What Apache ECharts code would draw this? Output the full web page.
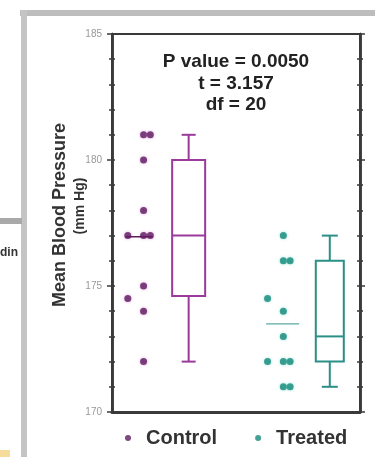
<!DOCTYPE html>
<html>
<head>
<meta charset="utf-8">
<script src="https://cdn.jsdelivr.net/npm/echarts@6/dist/echarts.min.js"></script>
<style>
html,body{margin:0;padding:0;background:#fff}
#bp{width:375px;height:457px}
</style>
</head>
<body>
<div id="bp"></div>
<script>
// dot plot + box plot, control vs treated
var groups = ['Control', 'Treated'];
var controlValues = [181, 181, 180, 178, 177, 177, 177, 175, 174.5, 174, 172];
var controlX = [0.7, 0.85, 0.7, 0.7, 0.35, 0.7, 0.85, 0.7, 0.35, 0.7, 0.7];
var treatedValues = [177, 176, 176, 174.5, 174, 173, 172, 172, 172, 171, 171];
var treatedX = [3.8, 3.8, 3.95, 3.45, 3.8, 3.8, 3.45, 3.8, 3.95, 3.8, 3.95];
// [x, min, q1, median, q3, max]
var controlBox = [1.7, 172, 174.6, 177, 180, 181];
var treatedBox = [4.83, 171, 172, 173, 176, 177];
var controlMeanX = [0.3, 0.9];
var treatedMeanX = [3.42, 4.15];
var yTicks = [170, 175, 180, 185];
var stats = ['P value = 0.0050', 't = 3.157', 'df = 20'];
var yTitle = ['Mean Blood Pressure', '(mm Hg)'];

var purple = '#5e1b5e', purpleBox = '#9a3a9a';
var teal = '#178a7b', tealBox = '#2a8f86';
var ink = '#3a3a3a';
var font = 'Liberation Sans';

function mean(a) {
	var s = 0;
	for (var i = 0; i < a.length; i++) s += a[i];
	return s / a.length;
}

function pts(xs, ys) {
	return xs.map(function (x, i) { return [x, ys[i]]; });
}

function boxRender(color, boxPx, capPx) {
	return function (params, api) {
		var x = api.value(0);
		var lo = api.coord([x, api.value(1)]);
		var q1 = api.coord([x, api.value(2)]);
		var md = api.coord([x, api.value(3)]);
		var q3 = api.coord([x, api.value(4)]);
		var hi = api.coord([x, api.value(5)]);
		var cx = lo[0], hb = boxPx / 2, hc = capPx / 2;
		var st = {stroke: color, fill: 'none', lineWidth: 2};
		function ln(x1, y1, x2, y2) {
			return {type: 'line', shape: {x1: x1, y1: y1, x2: x2, y2: y2}, style: st};
		}
		return {
			type: 'group',
			children: [
				{type: 'rect', shape: {x: cx - hb, y: q3[1], width: boxPx, height: q1[1] - q3[1]}, style: st},
				ln(cx - hb, md[1], cx + hb, md[1]),
				ln(cx, q3[1], cx, hi[1]),
				ln(cx - hc, hi[1], cx + hc, hi[1]),
				ln(cx, q1[1], cx, lo[1]),
				ln(cx - hc, lo[1], cx + hc, lo[1])
			]
		};
	};
}

function yAx(pos, inside, labels) {
	return {
		type: 'value', min: yTicks[0], max: yTicks[yTicks.length - 1], interval: 5, position: pos,
		axisLine: {show: true, lineStyle: {color: ink, width: 2.5}},
		axisTick: {show: true, inside: inside, length: inside ? 3 : 5, lineStyle: {color: ink, width: 1.5}},
		minorTick: {show: true, splitNumber: 5, length: 3, lineStyle: {color: ink, width: 1.5}},
		axisLabel: {show: labels, fontSize: 10, color: '#999', margin: 10, fontFamily: font},
		splitLine: {show: false}
	};
}

function statText(i, y) {
	return {type: 'text', x: 236, y: y,
		style: {text: stats[i], fontSize: 19, fontWeight: 'bold', fill: '#222', fontFamily: font, align: 'center', verticalAlign: 'middle'}};
}

var chart = echarts.init(document.querySelector('#bp'));
var cMean = mean(controlValues), tMean = mean(treatedValues);

var option = {
	animation: false,
	grid: {left: 112, top: 34, width: 248, height: 378, show: true, borderColor: ink, borderWidth: 2},
	legend: {
		data: groups, left: 120, top: 423, icon: 'circle', itemWidth: 26, itemHeight: 6, itemGap: 38,
		textStyle: {fontSize: 20, fontWeight: 'bold', color: '#333', fontFamily: font}
	},
	xAxis: {
		type: 'value', min: 0, max: 5.5,
		axisLine: {show: true, onZero: false, lineStyle: {color: ink, width: 3}},
		axisTick: {show: false}, axisLabel: {show: false}, splitLine: {show: false}
	},
	yAxis: [yAx('left', false, true), yAx('left', true, false), yAx('right', false, false), yAx('right', true, false)],
	graphic: [
		{type: 'rect', z: -1, shape: {x: 20, y: 10, width: 355, height: 6}, style: {fill: '#bdbdbd'}},
		{type: 'rect', z: -1, shape: {x: 21, y: 10, width: 6, height: 447}, style: {fill: '#c4c4c4'}},
		{type: 'rect', z: -1, shape: {x: 0, y: 218, width: 22, height: 6}, style: {fill: '#a9a9a9'}},
		{type: 'rect', z: -1, shape: {x: 0, y: 450, width: 10, height: 7}, style: {fill: '#f6dc9a'}},
		{type: 'text', x: 0, y: 253, style: {text: 'din', fontSize: 12, fontWeight: 'bold', fill: '#333', fontFamily: font, verticalAlign: 'middle'}},
		{type: 'text', x: 60, y: 215, rotation: Math.PI / 2,
			style: {text: yTitle[0], fontSize: 18, fontWeight: 'bold', fill: '#333', fontFamily: font, align: 'center', verticalAlign: 'middle'}},
		{type: 'text', x: 80, y: 206, rotation: Math.PI / 2,
			style: {text: yTitle[1], fontSize: 14, fontWeight: 'bold', fill: '#333', fontFamily: font, align: 'center', verticalAlign: 'middle'}},
		statText(0, 62), statText(1, 84), statText(2, 105)
	],
	series: [
		{
			name: groups[0], type: 'scatter', symbolSize: 7, data: pts(controlX, controlValues),
			itemStyle: {color: purple, shadowBlur: 3, shadowColor: 'rgba(200,90,200,0.6)'}
		},
		{
			name: groups[1], type: 'scatter', symbolSize: 7, data: pts(treatedX, treatedValues),
			itemStyle: {color: teal, shadowBlur: 3, shadowColor: 'rgba(60,200,180,0.6)'}
		},
		{
			type: 'line', symbol: 'none', silent: true, data: [[controlMeanX[0], cMean], [controlMeanX[1], cMean]],
			lineStyle: {color: purple, width: 1.5}
		},
		{
			type: 'line', symbol: 'none', silent: true, data: [[treatedMeanX[0], tMean], [treatedMeanX[1], tMean]],
			lineStyle: {color: '#5aa8a0', width: 1.2}
		},
		{type: 'custom', renderItem: boxRender(purpleBox, 33, 14), data: [controlBox], encode: {x: 0, y: [1, 2, 3, 4, 5]}},
		{type: 'custom', renderItem: boxRender(tealBox, 28, 16), data: [treatedBox], encode: {x: 0, y: [1, 2, 3, 4, 5]}}
	]
};

chart.setOption(option);
</script>
</body>
</html>
